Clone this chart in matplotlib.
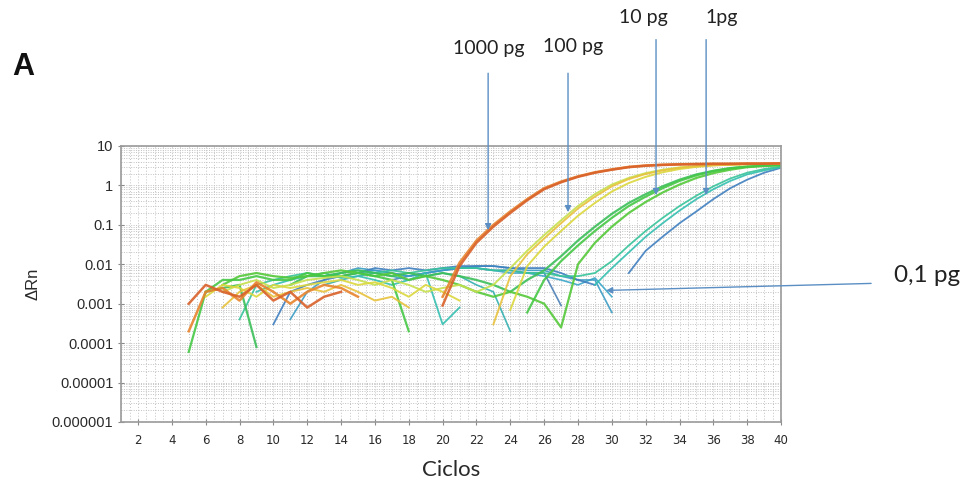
import numpy as np
import matplotlib
matplotlib.use("Agg")
import matplotlib.pyplot as plt
from matplotlib.ticker import FixedLocator, MultipleLocator, NullFormatter

nan = np.nan

# cycles 5..40, nan = not drawn (value <= 0 on the instrument)
cycles = list(range(5, 41))

pg1000_a = [0.001, 0.003, 0.002, 0.0015, 0.003, 0.0012, 0.002, 0.0008, 0.0015, 0.002,
            nan, nan, nan, nan, nan,
            0.0009, 0.009, 0.035, 0.09, 0.2, 0.42, 0.8, 1.2, 1.65, 2.1, 2.5,
            2.9, 3.15, 3.3, 3.4, 3.45, 3.5, 3.5, 3.55, 3.55, 3.6]
pg1000_b = [0.0002, 0.002, 0.0025, 0.0012, 0.0035, 0.002, 0.001, 0.002, 0.003, 0.0025, 0.0015,
            nan, nan, nan, nan,
            0.0015, 0.011, 0.04, 0.1, 0.22, 0.45, 0.85, 1.25, 1.7, 2.15, 2.55,
            2.95, 3.2, 3.35, 3.45, 3.5, 3.55, 3.55, 3.6, 3.6, 3.65]
pg100_a = [nan, nan, 0.0008, 0.002, 0.003, 0.0015, 0.002, 0.0025, 0.002, 0.003, 0.002,
           0.0012, 0.0015, 0.0008, nan, nan, nan, nan,
           0.0003, 0.005, 0.018, 0.045, 0.11, 0.26, 0.52, 0.95, 1.45, 1.95,
           2.4, 2.8, 3.05, 3.25, 3.35, 3.45, 3.5, 3.5]
pg100_b = [nan, 0.0015, 0.003, 0.0025, 0.0015, 0.003, 0.0025, 0.003, 0.0035, 0.004, 0.003,
           0.0035, 0.0025, 0.0015, 0.003, 0.002, 0.0012, nan, nan,
           0.0007, 0.009, 0.028, 0.07, 0.17, 0.36, 0.7, 1.15, 1.65, 2.15,
           2.6, 2.95, 3.2, 3.35, 3.45, 3.5, 3.55]
pg100_c = [nan, nan, 0.002, 0.003, 0.004, 0.0025, 0.003, 0.004, 0.0045, 0.005, 0.004,
           0.003, 0.004, 0.003, 0.002, 0.0025, 0.003, 0.002, 0.003,
           0.008, 0.022, 0.055, 0.13, 0.3, 0.6, 1.05, 1.55, 2.05, 2.5,
           2.85, 3.1, 3.3, 3.4, 3.5, 3.5, 3.55]
pg10_a = [0.00006, 0.002, 0.004, 0.004, 0.005, 0.004, 0.004, 0.006, 0.005, 0.005, 0.006,
          0.005, 0.004, 0.0002, nan, nan, nan, nan, nan, nan,
          0.0006, 0.004, 0.012, 0.03, 0.07, 0.15, 0.3, 0.52, 0.85, 1.3,
          1.8, 2.3, 2.7, 3.0, 3.2, 3.3]
pg10_b = [nan, nan, 0.003, 0.005, 0.006, 0.005, 0.0045, 0.005, 0.006, 0.007, 0.006,
          0.005, 0.006, 0.004, 0.005, 0.004, 0.003, 0.002, 0.0015, 0.002, 0.0015,
          0.001, 0.00025, 0.01, 0.035, 0.09, 0.2, 0.38, 0.66, 1.05, 1.55,
          2.05, 2.5, 2.9, 3.1, 3.25]
pg10_c = [nan, 0.002, 0.0025, 0.003, 0.00008, nan, 0.003, 0.005, 0.005, 0.006, 0.007,
          0.006, 0.005, 0.006, 0.005, 0.006, 0.005, 0.004, 0.003, 0.002, 0.004,
          0.007, 0.016, 0.04, 0.09, 0.19, 0.36, 0.6, 0.95, 1.4, 1.9,
          2.35, 2.75, 3.0, 3.2, 3.3]
pg1_a = [nan, nan, nan, 0.0004, 0.003, 0.004, 0.005, 0.006, 0.005, 0.006, 0.007,
         0.006, 0.007, 0.006, 0.007, 0.008, 0.008, 0.008, 0.007, 0.007, 0.006,
         0.006, 0.005, 0.005, 0.006, 0.012, 0.03, 0.07, 0.15, 0.3, 0.55,
         0.95, 1.5, 2.1, 2.6, 3.0]
pg1_b = [nan, nan, nan, nan, 0.002, 0.003, 0.004, 0.005, 0.006, 0.0045, 0.005,
         0.004, 0.003, 0.004, 0.006, 0.0003, 0.0008, nan, nan, nan, nan,
         nan, nan, nan, 0.003, 0.008, 0.02, 0.05, 0.11, 0.23, 0.45,
         0.8, 1.3, 1.9, 2.4, 2.9]
pg1_c = [nan, nan, nan, nan, nan, 0.0003, 0.002, 0.003, 0.004, 0.005, 0.006,
         0.008, 0.007, 0.008, 0.007, 0.008, 0.009, 0.009, 0.009, 0.008, 0.008,
         0.008, 0.006, 0.004, 0.003, nan, 0.006, 0.022, 0.05, 0.11, 0.22,
         0.45, 0.85, 1.4, 2.1, 2.8]
pg01_a = [nan, nan, nan, nan, nan, nan, 0.0004, 0.002, 0.004, 0.006, 0.008,
          0.007, 0.006, 0.005, 0.006, 0.007, 0.008, 0.009, 0.009, 0.008, 0.007,
          0.007, 0.005, 0.004, 0.004, 0.0006, nan, nan, nan, nan, nan,
          nan, nan, nan, nan, nan]
pg01_b = [nan, nan, nan, nan, nan, nan, nan, nan, nan, 0.005, 0.006,
          0.007, 0.006, 0.005, 0.006, 0.007, 0.008, 0.008, 0.007, 0.006, 0.006,
          0.005, 0.004, 0.003, 0.0045, 0.0015, nan, nan, nan, nan, nan,
          nan, nan, nan, nan, nan]
pg01_c = [nan, nan, nan, nan, nan, nan, nan, nan, 0.003, 0.004, 0.005,
          0.006, 0.005, 0.004, 0.005, 0.006, 0.005, 0.003, 0.002, 0.0002, nan,
          nan, nan, nan, nan, nan, nan, nan, nan, nan, nan,
          nan, nan, nan, nan, nan]
pg01_d = [nan, nan, nan, nan, nan, nan, nan, nan, nan, nan, nan,
          nan, 0.004, 0.005, 0.006, 0.007, 0.008, 0.008, 0.007, 0.007, 0.006,
          0.006, 0.0009, nan, nan, nan, nan, nan, nan, nan, nan,
          nan, nan, nan, nan, nan]

series = [pg01_d, pg01_c, pg01_b, pg01_a, pg1_c, pg1_b, pg1_a,
          pg10_c, pg10_b, pg10_a, pg100_c, pg100_b, pg100_a, pg1000_b, pg1000_a]
colors = ["#4a7fb5", "#34b0b0", "#3aa6c8", "#3a9cc4", "#3f7fbf", "#33bfb0", "#36c49a",
          "#3cbf5a", "#55c93a", "#46c846", "#c6e04c", "#dcd83e", "#e8c23c", "#e8842e", "#d9612a"]
widths = [1.2, 1.2, 1.2, 1.2, 1.3, 1.3, 1.3, 1.6, 1.6, 1.6, 1.4, 1.4, 1.4, 1.8, 1.8]

ytick_vals = [1e-6, 1e-5, 1e-4, 1e-3, 1e-2, 1e-1, 1, 10]
ytick_labels = ["0.000001", "0.00001", "0.0001", "0.001", "0.01", "0.1", "1", "10"]
xtick_vals = list(range(2, 41, 2))

fig = plt.figure(figsize=(9.63, 4.95), dpi=100)
ax = fig.add_axes([0.1257, 0.1475, 0.6854, 0.5576])

for vals, col, lw in zip(series, colors, widths):
    ax.plot(cycles, vals, color=col, lw=lw, alpha=0.9)

ax.set_yscale("log")
ax.set_xlim(1, 40)
ax.set_ylim(1e-6, 10)
ax.yaxis.set_major_locator(FixedLocator(ytick_vals))
ax.set_yticklabels(ytick_labels)
ax.yaxis.set_minor_formatter(NullFormatter())
ax.set_xticks(xtick_vals)
ax.xaxis.set_minor_locator(MultipleLocator(0.5))

ax.grid(True, which="both", axis="x", color="#c2c2c2", ls=(0, (1, 2)), lw=0.7)
ax.grid(True, which="both", axis="y", color="#c2c2c2", ls=(0, (1, 1.5)), lw=0.7)
ax.set_axisbelow(True)

for s in ax.spines.values():
    s.set_color("#9a9a9a")
    s.set_linewidth(1.2)
ax.tick_params(axis="both", which="major", colors="#8a8a8a", labelcolor="#2a2a2a",
               length=4, direction="inout")
ax.tick_params(axis="y", which="major", labelsize=10.5, labelfontfamily="Liberation Sans")
ax.tick_params(axis="x", which="major", pad=7, labelsize=8.5,
               labelfontfamily="Liberation Sans Narrow")
ax.tick_params(axis="both", which="minor", length=0)

ax.set_ylabel("\u0394Rn", fontsize=12, color="#2a2a2a", family="Liberation Sans", labelpad=8)
ax.set_xlabel("Ciclos", fontsize=16, color="#2a2a2a", family="Lato", labelpad=9)

fig.text(0.024, 0.865, "A", fontsize=22, fontweight="bold", family="Liberation Sans",
         color="#111111", ha="center", va="center")

arrow = dict(arrowstyle="-|>", color="#5b8fc4", lw=1.0, mutation_scale=9, shrinkA=0, shrinkB=0)
labels = [("1000 pg", 22.69, 700, 0.073, 22.74, 2900),
          ("100 pg", 27.41, 700, 0.209, 27.71, 3300),
          ("10 pg", 32.61, 4979, 0.566, 31.85, 18000),
          ("1pg", 35.57, 4979, 0.566, 36.5, 18000)]
for txt, xa, ytail, ytip, xt, yt in labels:
    ax.annotate("", xy=(xa, ytip), xytext=(xa, ytail), arrowprops=arrow, annotation_clip=False)
    ax.text(xt, yt, txt, ha="center", va="center", fontsize=14, family="Lato",
            color="#222222", clip_on=False)

ax.annotate("", xy=(29.66, 0.00217), xytext=(45.32, 0.00327), arrowprops=arrow,
            annotation_clip=False)
ax.text(46.68, 0.0052, "0,1 pg", ha="left", va="center", fontsize=17.5, family="Lato",
        color="#222222", clip_on=False)

fig.savefig("out.png", dpi=100, facecolor="white")
